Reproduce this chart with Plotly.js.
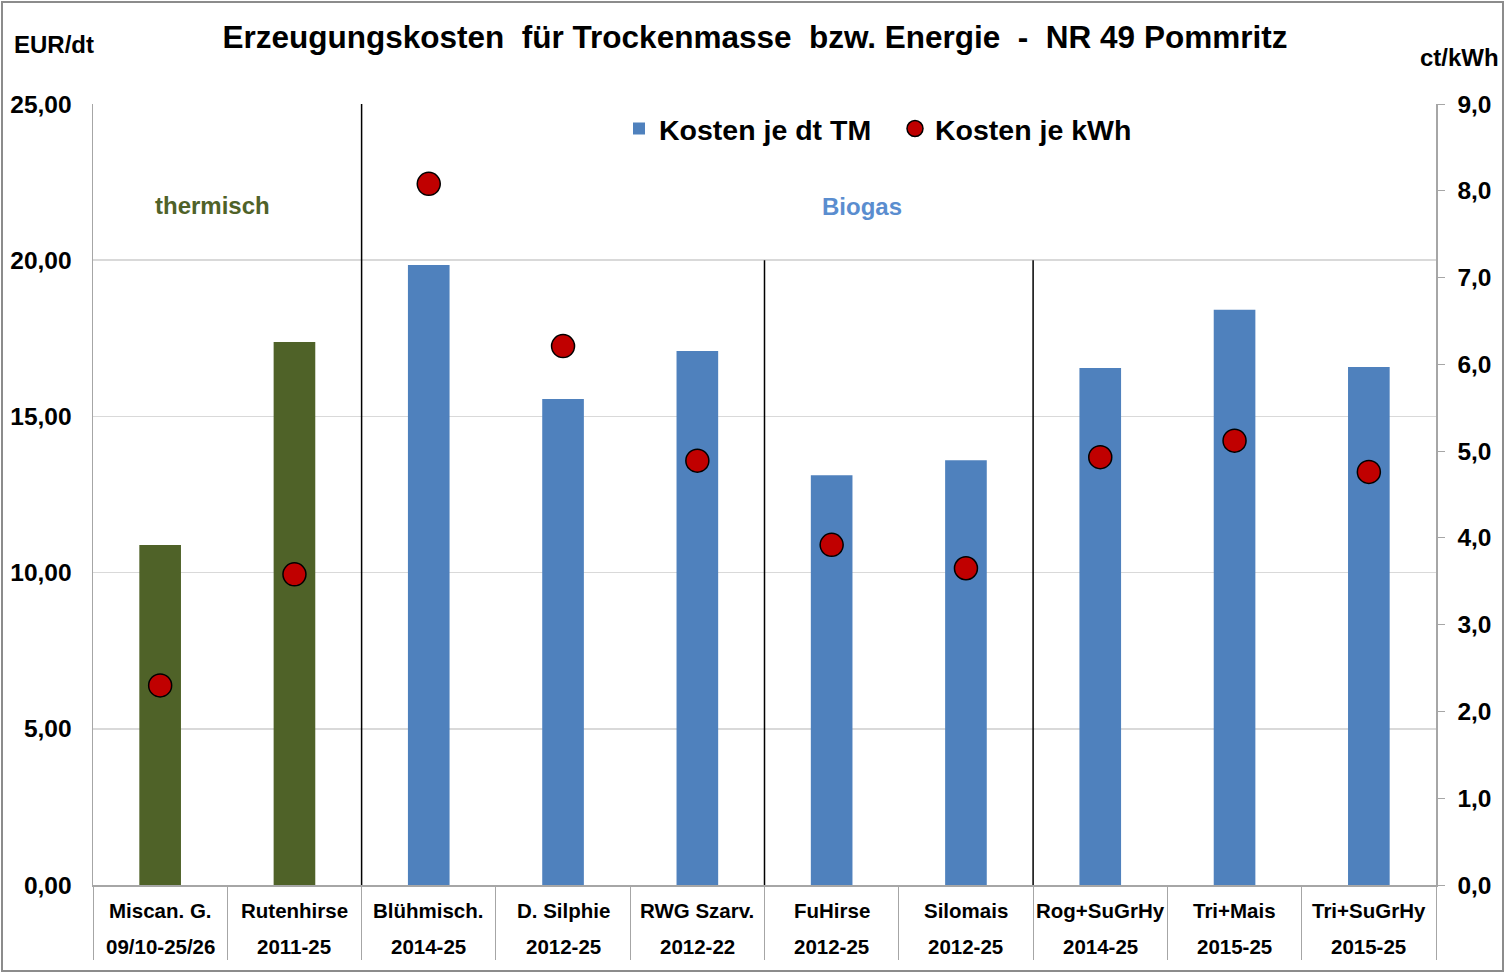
<!DOCTYPE html>
<html>
<head>
<meta charset="utf-8">
<script src="https://cdn.plot.ly/plotly-3.0.1.min.js"></script>
<style>html,body{margin:0;padding:0;background:#fff;}#chart{width:1505px;height:974px;}</style>
</head>
<body>
<div id="chart"></div>
<script>
// ---- data ----
const categories = ["Miscan. G.", "Rutenhirse", "Blühmisch.", "D. Silphie", "RWG Szarv.", "FuHirse", "Silomais", "Rog+SuGrHy", "Tri+Mais", "Tri+SuGrHy"];
const periods = ["09/10-25/26", "2011-25", "2014-25", "2012-25", "2012-22", "2012-25", "2012-25", "2014-25", "2015-25", "2015-25"];
const groups = ["thermisch", "thermisch", "Biogas", "Biogas", "Biogas", "Biogas", "Biogas", "Biogas", "Biogas", "Biogas"];
const kostenDtTM = [10.88, 17.38, 19.85, 15.56, 17.09, 13.12, 13.60, 16.55, 18.41, 16.58];
const kostenKWh = [2.30, 3.58, 8.08, 6.21, 4.89, 3.92, 3.65, 4.93, 5.12, 4.76];
const separatorsFull = [1.5];
const separatorsPartial = [4.5, 6.5];
const separatorPartialTop = 20;

// ---- layout helpers ----
const W = 1505, H = 974;
const M = {l: 93, r: 69, t: 104, b: 89};
const PW = W - M.l - M.r, PH = H - M.t - M.b;
const px = x => (x - M.l) / PW;
const py = y => (H - M.b - y) / PH;

const FONT = "Liberation Sans, Arial, sans-serif";
const GREEN = "#4F6228", BLUE = "#4F81BD", RED = "#C00000";

const thermIdx = groups.map((g, i) => g === "thermisch" ? i : -1).filter(i => i >= 0);
const bioIdx = groups.map((g, i) => g === "Biogas" ? i : -1).filter(i => i >= 0);

const traces = [
  {
    type: "bar", name: "Kosten je dt TM", showlegend: false,
    x: thermIdx.map(i => categories[i]), y: thermIdx.map(i => kostenDtTM[i]),
    marker: {color: GREEN}, width: 0.31, hoverinfo: "x+y"
  },
  {
    type: "bar", name: "Kosten je dt TM",
    x: bioIdx.map(i => categories[i]), y: bioIdx.map(i => kostenDtTM[i]),
    marker: {color: BLUE}, width: 0.31, hoverinfo: "x+y"
  },
  {
    type: "scatter", mode: "markers", name: "Kosten je kWh",
    x: categories, y: kostenKWh, yaxis: "y2",
    marker: {color: RED, size: 23, line: {color: "#000", width: 1.5}}
  }
];

const shapes = [
  {type: "rect", xref: "paper", yref: "paper", x0: px(2), x1: px(1503), y0: py(971), y1: py(2),
   line: {color: "#8C8C8C", width: 2}, fillcolor: "rgba(0,0,0,0)", layer: "below"}
];
separatorsFull.forEach(s => shapes.push({type: "line", xref: "x", yref: "paper", x0: s, x1: s, y0: 0, y1: 1, line: {color: "#000", width: 1.5}}));
separatorsPartial.forEach(s => shapes.push({type: "line", xref: "x", yref: "y", x0: s, x1: s, y0: 0, y1: separatorPartialTop, line: {color: "#000", width: 1.5}}));

const annotations = [];
categories.forEach((c, i) => {
  annotations.push({xref: "x", yref: "paper", x: c, y: py(910), text: "<b>" + c + "</b>", showarrow: false,
    xanchor: "center", yanchor: "middle", font: {family: FONT, size: 20.5, color: "#000"}});
  annotations.push({xref: "x", yref: "paper", x: c, y: py(946), text: "<b>" + periods[i] + "</b>", showarrow: false,
    xanchor: "center", yanchor: "middle", font: {family: FONT, size: 20.5, color: "#000"}});
});
annotations.push({xref: "paper", yref: "paper", x: px(212), y: py(205), xanchor: "center", yanchor: "middle",
  text: "<b>thermisch</b>", showarrow: false, font: {family: FONT, size: 24, color: GREEN}});
annotations.push({xref: "paper", yref: "paper", x: px(862), y: py(207), xanchor: "center", yanchor: "middle",
  text: "<b>Biogas</b>", showarrow: false, font: {family: FONT, size: 24, color: "#5A8DCF"}});
annotations.push({xref: "paper", yref: "paper", x: px(12), y: py(45), xanchor: "left", yanchor: "middle",
  text: "<b>EUR/dt</b>", showarrow: false, font: {family: FONT, size: 24, color: "#000"}});
annotations.push({xref: "paper", yref: "paper", x: px(1501), y: py(57), xanchor: "right", yanchor: "middle",
  text: "<b>ct/kWh</b>", showarrow: false, font: {family: FONT, size: 24, color: "#000"}});

const layout = {
  width: W, height: H,
  margin: M,
  paper_bgcolor: "#fff", plot_bgcolor: "#fff",
  separators: ",.",
  barmode: "overlay",
  font: {family: FONT, color: "#000"},
  title: {text: "<b>Erzeugungskosten  für Trockenmasse  bzw. Energie  -  NR 49 Pommritz</b>",
    x: px(755), xref: "paper", xanchor: "center", y: 1 - 37 / H, yanchor: "middle",
    font: {family: FONT, size: 31.5, color: "#000"}},
  xaxis: {
    type: "category", categoryorder: "array", categoryarray: categories,
    range: [-0.5, categories.length - 0.5],
    showticklabels: false, ticks: "outside", tickson: "boundaries", ticklen: 73, tickcolor: "#A6A6A6", tickwidth: 1,
    showline: true, linecolor: "#A6A6A6", linewidth: 1.5, showgrid: false, zeroline: false, fixedrange: true
  },
  yaxis: {
    range: [0, 25], dtick: 5, tick0: 0, tickformat: ".2f",
    showgrid: true, gridcolor: "#D9D9D9", gridwidth: 1.5,
    showline: true, linecolor: "#A6A6A6", linewidth: 1.5, zeroline: false,
    ticks: "", ticklabelstandoff: 15,
    tickfont: {family: FONT, size: 24.5, color: "#000", weight: "bold"}, fixedrange: true
  },
  yaxis2: {
    overlaying: "y", side: "right", range: [0, 9], dtick: 1, tick0: 0, tickformat: ".1f",
    showgrid: false, zeroline: false,
    showline: true, linecolor: "#A6A6A6", linewidth: 1.5,
    ticks: "outside", ticklen: 7, tickcolor: "#A6A6A6", ticklabelstandoff: 8,
    tickfont: {family: FONT, size: 24.5, color: "#000", weight: "bold"}, fixedrange: true
  },
  legend: {
    orientation: "h", x: px(619), xanchor: "left", y: py(129), yanchor: "middle",
    bgcolor: "rgba(0,0,0,0)", entrywidth: 231, entrywidthmode: "pixels",
    font: {family: FONT, size: 28.5, color: "#000", weight: "bold"}
  },
  shapes: shapes,
  annotations: annotations
};

Plotly.newPlot("chart", traces, layout, {displayModeBar: false, staticPlot: true});
</script>
</body>
</html>
